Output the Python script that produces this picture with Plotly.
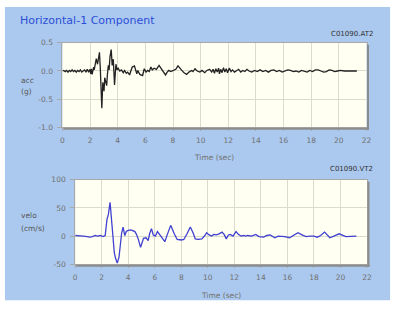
import plotly.graph_objects as go

# ---------------- data ----------------
acc_time = [
    0.0, 0.1, 0.2, 0.3, 0.4, 0.5, 0.6, 0.7, 0.8, 0.9,
    1.0, 1.1, 1.2, 1.3, 1.4, 1.5, 1.6, 1.7, 1.8, 1.9,
    2.0, 2.05, 2.1, 2.15, 2.2, 2.26, 2.3, 2.36, 2.45, 2.54,
    2.6, 2.68, 2.74, 2.78, 2.85, 2.92, 3.01, 3.06, 3.11, 3.2,
    3.26, 3.32, 3.38, 3.44, 3.53, 3.6, 3.68, 3.77, 3.87, 3.95,
    4.03, 4.15, 4.27, 4.4, 4.5, 4.62, 4.72, 4.86, 4.95, 5.05,
    5.21, 5.3, 5.38, 5.45, 5.6, 5.8, 5.92, 6.05, 6.16, 6.28,
    6.4, 6.5, 6.63, 6.8, 6.99, 7.1, 7.22, 7.35, 7.46, 7.58,
    7.7, 7.85, 8.05, 8.2, 8.36, 8.5, 8.64, 8.8, 8.99, 9.15,
    9.35, 9.45, 9.59, 9.75, 9.94, 10.1, 10.3, 10.45, 10.65, 10.8,
    10.9, 11.0, 11.1, 11.2, 11.3, 11.36, 11.45, 11.55, 11.65, 11.75,
    11.85, 11.95, 12.07, 12.2, 12.3, 12.45, 12.6, 12.75, 12.9, 13.05,
    13.2, 13.35, 13.5, 13.7, 13.9, 14.1, 14.3, 14.5, 14.7, 14.9,
    15.1, 15.3, 15.5, 15.7, 15.9, 16.1, 16.3, 16.5, 16.7, 16.9,
    17.1, 17.3, 17.5, 17.7, 17.9, 18.1, 18.3, 18.5, 18.7, 18.9,
    19.1, 19.3, 19.5, 19.7, 19.9, 20.1, 20.4, 20.7, 21.0, 21.3,
]
acc_g = [
    0.00, 0.01, -0.01, 0.01, -0.02, 0.01, -0.01, 0.02, -0.01, 0.01,
    -0.02, 0.01, -0.01, 0.02, -0.02, 0.01, 0.02, -0.02, 0.03, -0.02,
    0.03, -0.05, 0.04, -0.06, 0.03, 0.07, 0.02, 0.10, 0.22, 0.12,
    0.20, 0.33, 0.05, -0.15, -0.66, -0.20, -0.36, -0.12, -0.18, -0.26,
    -0.05, 0.10, 0.02, 0.25, 0.38, 0.10, 0.21, -0.25, 0.12, 0.02,
    0.05, 0.00, 0.02, -0.03, 0.01, -0.04, -0.02, -0.07, 0.00, 0.07,
    0.09, 0.02, -0.05, 0.01, -0.06, -0.08, 0.04, -0.02, 0.01, -0.01,
    0.07, 0.02, 0.05, 0.03, 0.10, 0.06, 0.01, -0.03, -0.07, -0.02,
    0.01, -0.01, 0.01, 0.03, 0.09, 0.04, 0.01, -0.03, -0.06, -0.02,
    0.01, -0.01, 0.04, 0.00, -0.02, 0.01, -0.03, 0.01, 0.03, -0.02,
    0.03, -0.04, 0.04, -0.02, 0.05, -0.05, 0.03, -0.03, 0.06, -0.02,
    0.04, -0.03, 0.05, -0.01, 0.02, -0.02, 0.01, 0.03, -0.02, 0.01,
    -0.01, 0.03, 0.00, -0.02, 0.01, -0.01, 0.02, -0.01, 0.01, -0.02,
    0.01, 0.02, -0.01, 0.01, -0.02, 0.00, 0.02, 0.01, -0.01, 0.00,
    -0.02, 0.01, 0.00, -0.02, 0.01, -0.01, 0.02, 0.02, 0.00, -0.02,
    -0.01, 0.02, 0.01, -0.01, 0.00, 0.01, 0.00, 0.00, 0.00, 0.00,
]

vel_time = [
    0.0, 0.3, 0.6, 0.9, 1.1, 1.3, 1.5, 1.7, 1.9, 2.1,
    2.26, 2.4, 2.5, 2.63, 2.72, 2.82, 2.95, 3.05, 3.17, 3.3,
    3.4, 3.5, 3.61, 3.74, 3.85, 3.99, 4.2, 4.36, 4.5, 4.6,
    4.75, 4.93, 5.05, 5.15, 5.35, 5.5, 5.62, 5.75, 5.89, 6.05,
    6.2, 6.35, 6.5, 6.76, 6.95, 7.2, 7.45, 7.69, 8.0, 8.19,
    8.45, 8.68, 8.9, 9.05, 9.3, 9.54, 9.75, 9.91, 10.1, 10.28,
    10.45, 10.65, 10.85, 11.07, 11.25, 11.39, 11.55, 11.69, 11.89, 12.13,
    12.3, 12.5, 12.7, 12.84, 13.0, 13.3, 13.61, 13.86, 14.2, 14.45,
    14.7, 15.05, 15.3, 15.55, 15.8, 16.15, 16.5, 16.8, 17.1, 17.4,
    17.7, 18.0, 18.25, 18.5, 18.8, 19.2, 19.5, 19.9, 20.4, 20.8, 21.2,
]
vel_cms = [
    1, 1, 0, -1, -2, -1, 1, 0, 1, -1,
    1, 30, 38, 60, 30, 0, -30, -40, -48, -38,
    -15, 5, 16, 1, 8, 10, 11, 10, 8, 4,
    -5, -20, -12, -4, -3, -8, 5, 13, 2, 0,
    8, 3, -3, -10, 3, 19, 5, -6, -7, -6,
    5, 16, 5, -5, -6, -5, 0, 6, 2, 0,
    3, 2, 4, 7, 2, -5, 2, 3, 0, 8,
    3, 0, 1, 0, 1, 0, 3, -1, -2, 1,
    2, -3, 0, 0, -1, -3, 2, 6, 2, -1,
    0, 0, -2, 1, 7, -3, 0, 4, -1, 0, 0,
]

x_ticks = list(range(0, 23, 2))
acc_ticks = [-1.0, -0.5, 0.0, 0.5]
acc_tick_text = ["-1.0", "-0.5", "0.0", "0.5"]
vel_ticks = [-50, 0, 50, 100]

title_text = "Horizontal-1 Component"
acc_file = "C01090.AT2"
vel_file = "C01090.VT2"

# ---------------- layout helpers ----------------
W, H = 400, 310
def px(x):
    return x / W
def py(y):
    return 1 - y / H

FONT = "DejaVu Sans"
BLUE_BG = "#abc9ef"
PLOT_BG = "#fffff2"
GRID = "#dcdccc"
TICKC = "#707070"

# plot rectangles in pixels
p1 = dict(l=61.5, r=371, t=40, b=127)
p2 = dict(l=74.5, r=371.5, t=181, b=268)

fig = go.Figure()
fig.add_trace(go.Scatter(x=acc_time, y=acc_g, mode="lines",
                         line=dict(color="#222222", width=1.3),
                         xaxis="x", yaxis="y", hoverinfo="skip"))
fig.add_trace(go.Scatter(x=vel_time, y=vel_cms, mode="lines",
                         line=dict(color="#4040d2", width=1.3),
                         xaxis="x2", yaxis="y2", hoverinfo="skip"))

def xax(p, anchor):
    return dict(domain=[px(p["l"]), px(p["r"])], range=[0, 22], tickvals=x_ticks,
                anchor=anchor, showgrid=True, gridcolor=GRID, gridwidth=1,
                zeroline=False, showline=True, linecolor="#a8a8a8", linewidth=1,
                mirror=True, ticks="outside", ticklen=3, tickcolor="#a8a8a8",
                ticklabelstandoff=3,
                tickfont=dict(family=FONT, size=7.5, color=TICKC), fixedrange=True)

def yax(p, anchor, rng, tv, tt):
    return dict(domain=[py(p["b"]), py(p["t"])], range=rng, tickvals=tv, ticktext=tt,
                anchor=anchor, showgrid=True, gridcolor=GRID, gridwidth=1,
                zeroline=False, showline=True, linecolor="#a8a8a8", linewidth=1,
                mirror=True, ticks="outside", ticklen=4, tickcolor="#a8a8a8",
                ticklabelstandoff=3,
                tickfont=dict(family=FONT, size=7.5, color=TICKC), fixedrange=True)

shapes = [
    dict(type="rect", xref="paper", yref="paper", x0=px(3), x1=px(395), y0=py(305), y1=py(3),
         fillcolor=BLUE_BG, line=dict(width=0), layer="below"),
]
for p in (p1, p2):
    shapes.append(dict(type="rect", xref="paper", yref="paper",
                       x0=px(p["l"]), x1=px(p["r"]), y0=py(p["b"]), y1=py(p["t"]),
                       fillcolor=PLOT_BG, line=dict(width=0), layer="below"))
    # shadow right and bottom
    shapes.append(dict(type="line", xref="paper", yref="paper",
                       x0=px(p["r"] + 1.5), x1=px(p["r"] + 1.5), y0=py(p["t"] + 2), y1=py(p["b"] + 2.5),
                       line=dict(color="#8c8c8c", width=2)))
    shapes.append(dict(type="line", xref="paper", yref="paper",
                       x0=px(p["l"] + 1), x1=px(p["r"] + 2.5), y0=py(p["b"] + 1.5), y1=py(p["b"] + 1.5),
                       line=dict(color="#8c8c8c", width=2)))

def ann(text, x, y, size, color, xanchor="left"):
    return dict(text=text, x=px(x), y=py(y), xref="paper", yref="paper",
                xanchor=xanchor, yanchor="middle", showarrow=False,
                font=dict(family=FONT, size=size, color=color))

annotations = [
    ann(title_text, 16, 17, 11, "#2c4ed6"),
    ann(acc_file, 380, 31, 7, "#333333", "right"),
    ann(vel_file, 380, 170, 7, "#333333", "right"),
    ann("acc", 17.5, 79, 7.5, "#555555"),
    ann("(g)", 17.5, 90, 7.5, "#555555"),
    ann("velo", 17.5, 218, 7.5, "#555555"),
    ann("(cm/s)", 17, 231, 7.5, "#555555"),
    ann("Time (sec)", (p1["l"] + p1["r"]) / 2, 158, 7.5, "#707070", "center"),
    ann("Time (sec)", (p2["l"] + p2["r"]) / 2, 300, 7.5, "#707070", "center"),
]

fig.update_layout(
    width=W, height=H, autosize=False,
    margin=dict(l=0, r=0, t=0, b=0, pad=0),
    paper_bgcolor="white", plot_bgcolor=PLOT_BG,
    showlegend=False,
    xaxis=xax(p1, "y"), yaxis=yax(p1, "x", [-1.0, 0.5], acc_ticks, acc_tick_text),
    xaxis2=xax(p2, "y2"), yaxis2=yax(p2, "x2", [-50, 100], vel_ticks, [str(v) for v in vel_ticks]),
    shapes=shapes, annotations=annotations,
)

fig.write_html("out.html", config=dict(displayModeBar=False, staticPlot=True),
               post_script="document.body.style.margin='0';document.body.style.overflow='hidden';")
